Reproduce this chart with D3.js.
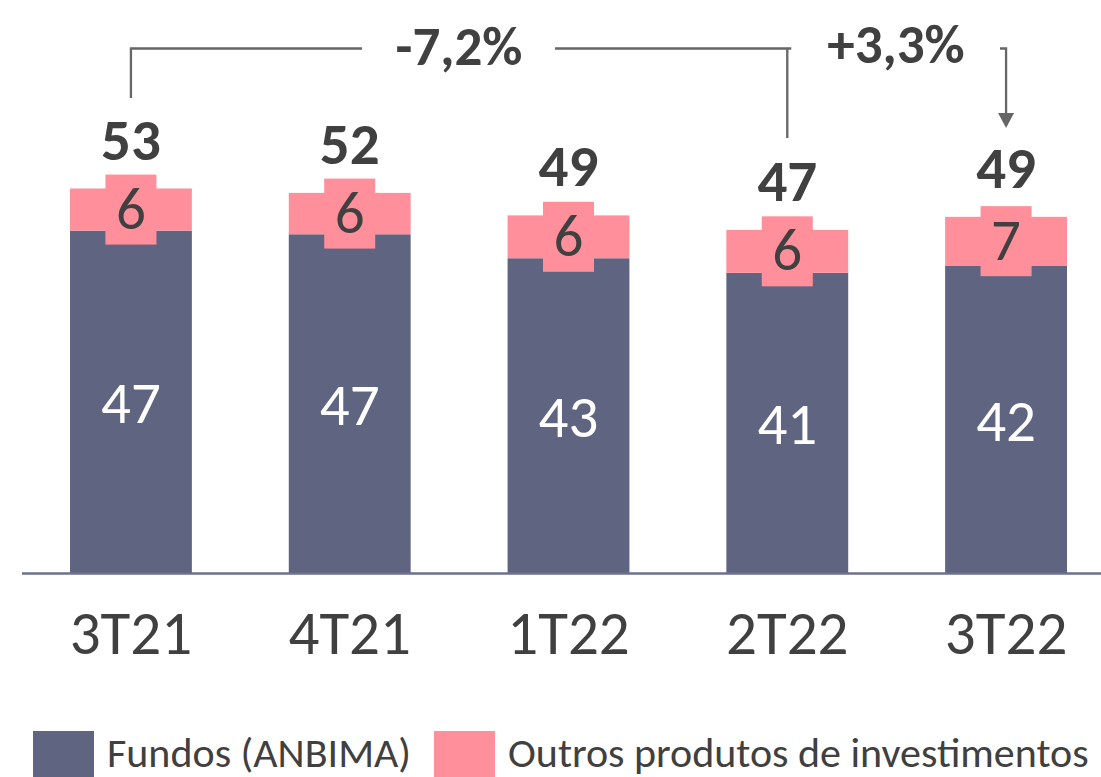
<!DOCTYPE html>
<html>
<head>
<meta charset="utf-8">
<script src="https://cdn.jsdelivr.net/npm/d3@7"></script>
<style>
  html, body { margin: 0; padding: 0; background: #ffffff; }
  svg { display: block; }
  text { font-family: Carlito, Lato, "Open Sans", sans-serif; }
</style>
</head>
<body>
<div id="chart"></div>
<script>
// Quarterly volumes (R$ bi) split into ANBIMA funds and other investment products
const categories = ["3T21", "4T21", "1T22", "2T22", "3T22"];
const fundos = [47.2, 46.7, 43.4, 41.4, 42.4];
const outros = [5.8, 5.7, 5.9, 5.9, 6.7];
const seriesNames = ["Fundos (ANBIMA)", "Outros produtos de investimentos"];
const changeLabels = ["-7,2%", "+3,3%"];

const W = 1101, H = 777;
const colors = { fundos: "#5f6580", outros: "#ff8f9b", text: "#404040", line: "#666666", axis: "#6b7090" };

const svg = d3.select("#chart").append("svg")
  .attr("width", W).attr("height", H);

const baseY = 573.5;
const x = d3.scaleBand().domain(categories).range([70, 1067]).paddingInner(0.443).paddingOuter(0);
const y = d3.scaleLinear().domain([0, 60]).range([baseY, baseY - 60 * 7.264]);

const rows = categories.map((c, i) => ({ cat: c, fundos: fundos[i], outros: outros[i] }));
const stack = d3.stack().keys(["fundos", "outros"]);
const layers = stack(rows);
const fmt = d3.format(".0f");

// stacked bars
const g = svg.append("g");
layers.forEach(layer => {
  g.append("g").selectAll("rect").data(layer).join("rect")
    .attr("x", d => x(d.data.cat))
    .attr("width", x.bandwidth())
    .attr("y", d => y(d[1]))
    .attr("height", d => y(d[0]) - y(d[1]))
    .attr("fill", colors[layer.key]);
});

// baseline
svg.append("line")
  .attr("x1", 22).attr("x2", W).attr("y1", baseY).attr("y2", baseY)
  .attr("stroke", colors.axis).attr("stroke-width", 2.5);

// segment value labels (with a filled tag behind)
const numSize = 59;
layers.forEach(layer => {
  const isOut = layer.key === "outros";
  layer.forEach(d => {
    const cx = x(d.data.cat) + x.bandwidth() / 2;
    const cy = (y(d[0]) + y(d[1])) / 2;
    if (isOut) {
      svg.append("rect")
        .attr("x", cx - 25.5).attr("y", cy - 35)
        .attr("width", 51).attr("height", 70)
        .attr("fill", colors.outros);
    }
    svg.append("text")
      .attr("x", cx).attr("y", cy + (isOut ? 19 : 21))
      .attr("text-anchor", "middle")
      .attr("font-size", numSize)
      .attr("fill", isOut ? colors.text : "#ffffff")
      .text(fmt(d.data[layer.key]));
  });
});

// totals above the bars
rows.forEach(r => {
  const total = r.fundos + r.outros;
  svg.append("text")
    .attr("x", x(r.cat) + x.bandwidth() / 2)
    .attr("y", y(total) - 29)
    .attr("text-anchor", "middle")
    .attr("font-size", numSize)
    .attr("font-weight", "bold")
    .attr("fill", colors.text)
    .text(fmt(total));
});

// category labels
const xAxis = d3.axisBottom(x).tickSize(0).tickPadding(0);
const ax = svg.append("g").attr("transform", `translate(0,${baseY})`).call(xAxis);
ax.select(".domain").remove();
ax.selectAll("text")
  .attr("y", 80).attr("dy", null)
  .attr("font-size", 61)
  .attr("font-family", null)
  .attr("fill", colors.text);

// variation brackets
const cxOf = c => x(c) + x.bandwidth() / 2;
const topY = 48.5;
const lineStyle = sel => sel.attr("fill", "none").attr("stroke", colors.line).attr("stroke-width", 2.3);

svg.append("path").call(lineStyle)
  .attr("d", `M${cxOf("3T21")},98 V${topY} H362`);
svg.append("path").call(lineStyle)
  .attr("d", `M555,${topY} H${cxOf("2T22") + 4} M${cxOf("2T22")},${topY} V138`);
svg.append("path").call(lineStyle)
  .attr("d", `M1000,${topY} H${cxOf("3T22")} V115`);
svg.append("path")
  .attr("d", `M${cxOf("3T22") - 8},113 L${cxOf("3T22") + 8},113 L${cxOf("3T22")},128 Z`)
  .attr("fill", colors.line);

svg.append("text")
  .attr("x", 459).attr("y", 65)
  .attr("text-anchor", "middle").attr("font-size", 55).attr("font-weight", "bold")
  .attr("fill", colors.text).text(changeLabels[0]);
svg.append("text")
  .attr("x", 896).attr("y", 63)
  .attr("text-anchor", "middle").attr("font-size", 55).attr("font-weight", "bold")
  .attr("fill", colors.text).text(changeLabels[1]);

// legend
const legendItems = [
  { name: seriesNames[0], color: colors.fundos, x: 33 },
  { name: seriesNames[1], color: colors.outros, x: 434 }
];
legendItems.forEach(it => {
  svg.append("rect").attr("x", it.x).attr("y", 731).attr("width", 61).attr("height", 61).attr("fill", it.color);
  svg.append("text").attr("x", it.x + 74).attr("y", 767)
    .attr("font-size", 42).attr("fill", colors.text).text(it.name);
});
</script>
</body>
</html>
